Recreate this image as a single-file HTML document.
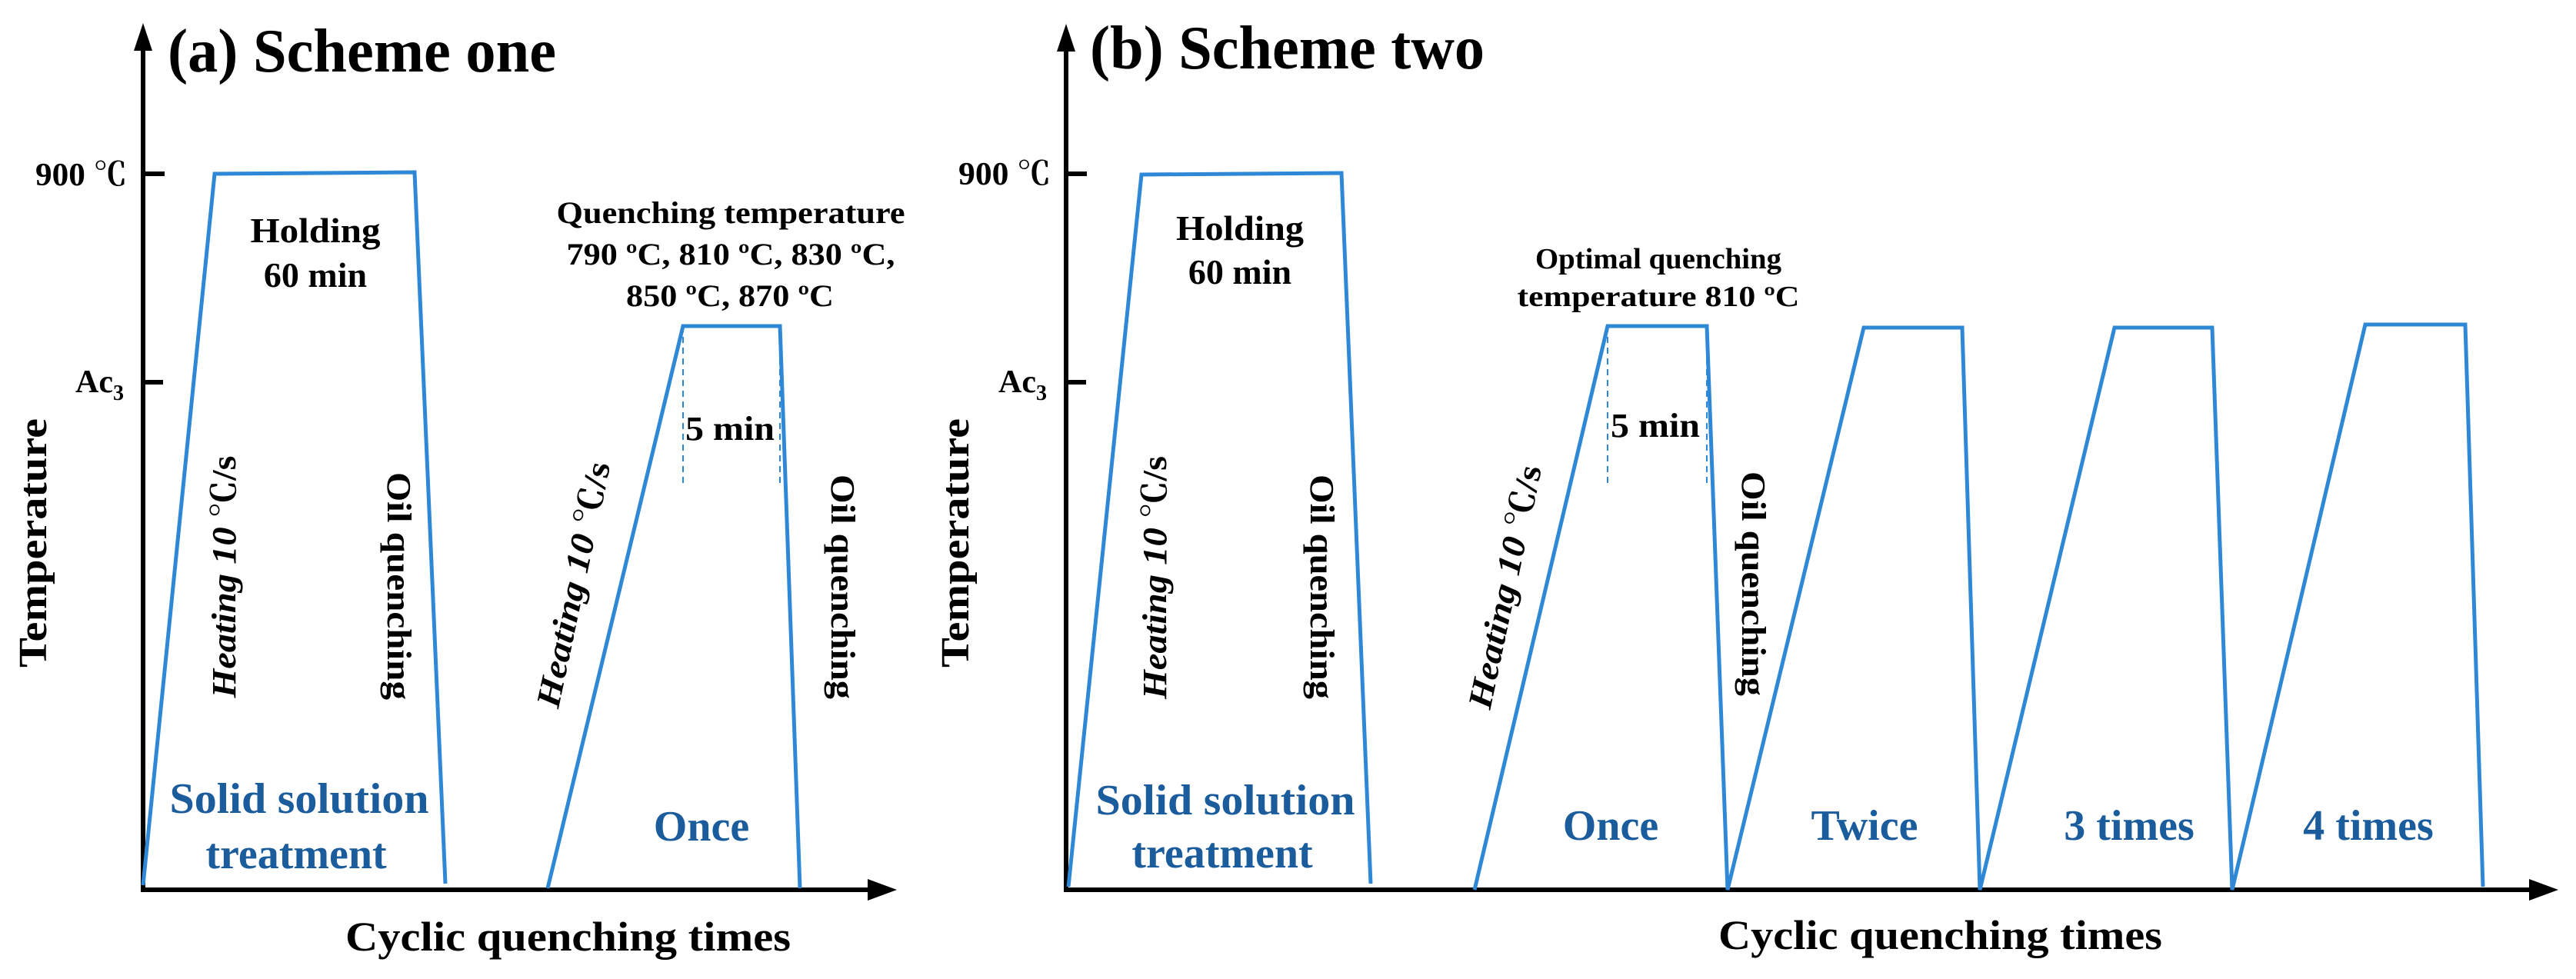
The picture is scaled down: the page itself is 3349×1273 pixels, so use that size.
<!DOCTYPE html>
<html><head><meta charset="utf-8"><style>
html,body{margin:0;padding:0;background:#fff;}
svg{display:block;}
text{font-family:"Liberation Serif","Noto Serif CJK SC",serif;font-weight:bold;fill:#000;}
.b{fill:#1b5c9c;}
.p{fill:none;stroke:#2f88d6;stroke-width:5;stroke-linejoin:miter;}
.d{stroke:#2f88d6;stroke-width:2;stroke-dasharray:8,6;}
.ax{stroke:#000;stroke-width:6;fill:none;}
</style></head><body>
<svg width="3349" height="1273" viewBox="0 0 3349 1273" xmlns="http://www.w3.org/2000/svg">
<!-- Panel A axes -->
<line class="ax" x1="186" y1="1158" x2="186" y2="60"/>
<polygon points="186,30 174,66 198,66" fill="#000"/>
<line class="ax" x1="183" y1="1157" x2="1135" y2="1157"/>
<polygon points="1166,1157 1128,1143 1128,1171" fill="#000"/>
<line class="ax" x1="186" y1="226" x2="214" y2="226"/>
<line class="ax" x1="186" y1="497" x2="212" y2="497"/>
<text x="218" y="93" font-size="80" textLength="505" lengthAdjust="spacingAndGlyphs">(a) Scheme one</text>
<text x="46" y="241" font-size="42" textLength="119" lengthAdjust="spacingAndGlyphs">900 ℃</text>
<text x="98" y="510" font-size="42">Ac<tspan font-size="28" dy="10">3</tspan></text>
<text transform="translate(42,706) rotate(-90)" text-anchor="middle" dy="18" font-size="52" textLength="324" lengthAdjust="spacingAndGlyphs">Temperature</text>
<text x="449" y="1236" font-size="54" textLength="579" lengthAdjust="spacingAndGlyphs">Cyclic quenching times</text>
<polyline class="p" points="186,1151 279,226 539,224 579,1149"/>
<polyline class="p" points="712,1155 888,424 1014,424 1040,1155"/>
<line class="d" x1="888" y1="424" x2="888" y2="630"/>
<line class="d" x1="1014" y1="424" x2="1014" y2="630"/>
<text x="410" y="315" font-size="46" text-anchor="middle" textLength="169" lengthAdjust="spacingAndGlyphs">Holding</text>
<text x="410" y="373" font-size="46" text-anchor="middle">60 min</text>
<text x="950" y="290" font-size="40" text-anchor="middle" textLength="453" lengthAdjust="spacingAndGlyphs">Quenching temperature</text>
<text x="950" y="344" font-size="40" text-anchor="middle" textLength="427" lengthAdjust="spacingAndGlyphs">790 ºC, 810 ºC, 830 ºC,</text>
<text x="949" y="398" font-size="40" text-anchor="middle" textLength="270" lengthAdjust="spacingAndGlyphs">850 ºC, 870 ºC</text>
<text x="891" y="572" font-size="44" textLength="116" lengthAdjust="spacingAndGlyphs">5 min</text>
<text transform="translate(291,750) rotate(-90)" text-anchor="middle" dy="15" font-size="44" textLength="315" lengthAdjust="spacingAndGlyphs"><tspan font-style="italic">Heating 10 </tspan>℃/s</text>
<text transform="translate(519,762) rotate(90)" text-anchor="middle" dy="15" font-size="44" textLength="296" lengthAdjust="spacingAndGlyphs">Oil quenching</text>
<text transform="translate(745,760) rotate(-78)" text-anchor="middle" dy="15" font-size="44" textLength="325" lengthAdjust="spacingAndGlyphs"><tspan font-style="italic">Heating 10 </tspan>℃/s</text>
<text transform="translate(1096,763) rotate(90)" text-anchor="middle" dy="15" font-size="44" textLength="292" lengthAdjust="spacingAndGlyphs">Oil quenching</text>
<text class="b" x="389" y="1057" font-size="56" text-anchor="middle" textLength="337" lengthAdjust="spacingAndGlyphs">Solid solution</text>
<text class="b" x="385" y="1129" font-size="56" text-anchor="middle">treatment</text>
<text class="b" x="912" y="1093" font-size="56" text-anchor="middle">Once</text>

<!-- Panel B axes -->
<line class="ax" x1="1386" y1="1160" x2="1386" y2="60"/>
<polygon points="1386,31 1374,67 1398,67" fill="#000"/>
<line class="ax" x1="1383" y1="1157" x2="3295" y2="1157"/>
<polygon points="3326,1157 3288,1143 3288,1171" fill="#000"/>
<line class="ax" x1="1386" y1="226" x2="1413" y2="226"/>
<line class="ax" x1="1386" y1="497" x2="1412" y2="497"/>
<text x="1417" y="89" font-size="80" textLength="513" lengthAdjust="spacingAndGlyphs">(b) Scheme two</text>
<text x="1246" y="240" font-size="42" textLength="120" lengthAdjust="spacingAndGlyphs">900 ℃</text>
<text x="1298" y="510" font-size="42">Ac<tspan font-size="28" dy="10">3</tspan></text>
<text transform="translate(1241,706) rotate(-90)" text-anchor="middle" dy="18" font-size="52" textLength="324" lengthAdjust="spacingAndGlyphs">Temperature</text>
<text x="2234" y="1234" font-size="54" textLength="577" lengthAdjust="spacingAndGlyphs">Cyclic quenching times</text>
<polyline class="p" points="1389,1153 1484,227 1744,225 1782,1149"/>
<polyline class="p" points="1917,1157 2090,424 2219,424 2246,1157 2423,426 2551,426 2574,1157 2749,426 2876,426 2902,1157 3075,422 3205,422 3228,1153"/>
<line class="d" x1="2090" y1="424" x2="2090" y2="630"/>
<line class="d" x1="2219" y1="424" x2="2219" y2="630"/>
<text x="1612" y="312" font-size="46" text-anchor="middle" textLength="166" lengthAdjust="spacingAndGlyphs">Holding</text>
<text x="1612" y="369" font-size="46" text-anchor="middle">60 min</text>
<text x="2156" y="349" font-size="38" text-anchor="middle" textLength="320" lengthAdjust="spacingAndGlyphs">Optimal quenching</text>
<text x="2156" y="398" font-size="38" text-anchor="middle" textLength="367" lengthAdjust="spacingAndGlyphs">temperature 810 ºC</text>
<text x="2094" y="568" font-size="44" textLength="116" lengthAdjust="spacingAndGlyphs">5 min</text>
<text transform="translate(1501,751) rotate(-90)" text-anchor="middle" dy="15" font-size="44" textLength="316" lengthAdjust="spacingAndGlyphs"><tspan font-style="italic">Heating 10 </tspan>℃/s</text>
<text transform="translate(1719,763) rotate(90)" text-anchor="middle" dy="15" font-size="44" textLength="292" lengthAdjust="spacingAndGlyphs">Oil quenching</text>
<text transform="translate(1956,763) rotate(-78)" text-anchor="middle" dy="15" font-size="44" textLength="322" lengthAdjust="spacingAndGlyphs"><tspan font-style="italic">Heating 10 </tspan>℃/s</text>
<text transform="translate(2280,759) rotate(90)" text-anchor="middle" dy="15" font-size="44" textLength="292" lengthAdjust="spacingAndGlyphs">Oil quenching</text>
<text class="b" x="1593" y="1059" font-size="56" text-anchor="middle" textLength="337" lengthAdjust="spacingAndGlyphs">Solid solution</text>
<text class="b" x="1589" y="1128" font-size="56" text-anchor="middle">treatment</text>
<text class="b" x="2094" y="1092" font-size="56" text-anchor="middle">Once</text>
<text class="b" x="2424" y="1092" font-size="56" text-anchor="middle">Twice</text>
<text class="b" x="2768" y="1092" font-size="56" text-anchor="middle">3 times</text>
<text class="b" x="3079" y="1092" font-size="56" text-anchor="middle">4 times</text>
</svg>
</body></html>
